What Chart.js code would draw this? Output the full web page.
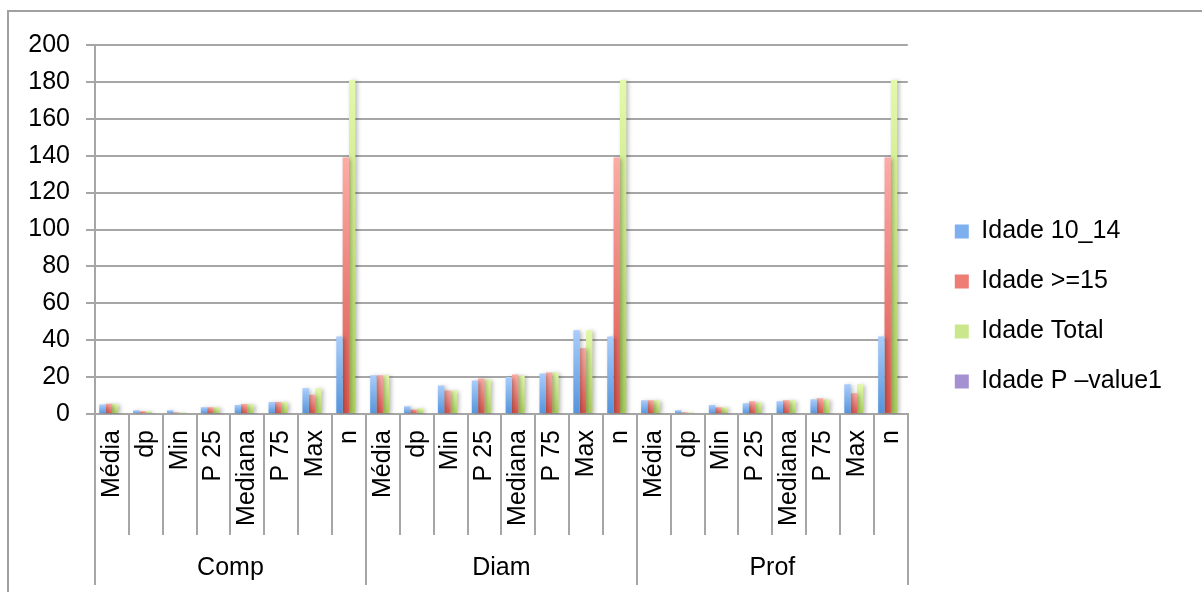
<!DOCTYPE html>
<html>
<head>
<meta charset="utf-8">
<title>Idade – Comp, Diam, Prof</title>
<script src="https://cdn.jsdelivr.net/npm/chart.js@4/dist/chart.umd.min.js"></script>
<style>
  html, body { margin: 0; padding: 0; background: #fff; }
  #wrap { width: 1202px; height: 592px; position: relative; }
</style>
</head>
<body>
<div id="wrap"><canvas id="c" width="1202" height="592"></canvas></div>
<script>
// Measure groups and the statistics shown inside each group
const groups = ['Comp', 'Diam', 'Prof'];
const stats = ['Média', 'dp', 'Min', 'P 25', 'Mediana', 'P 75', 'Max', 'n'];

// Series values, eight statistics per group (Comp, Diam, Prof)
const idade10_14 = [
  5.1, 2.0, 2.0, 3.7, 4.9, 6.5, 14.0, 42,
  21.0, 4.2, 15.5, 18.2, 20.0, 22.0, 45.4, 42,
  7.4, 2.0, 4.9, 5.8, 6.9, 8.0, 16.1, 42
];
const idade15 = [
  5.6, 1.5, 0.9, 3.7, 5.4, 6.5, 10.5, 139,
  21.0, 2.5, 12.8, 19.3, 21.4, 22.5, 35.6, 139,
  7.4, 1.0, 3.6, 6.9, 7.4, 8.5, 11.3, 139
];
const idadeTotal = [
  5.6, 1.5, 0.9, 3.7, 5.4, 6.5, 14.0, 181,
  21.0, 3.1, 12.8, 18.8, 20.9, 22.5, 45.4, 181,
  7.4, 0.9, 3.6, 6.3, 7.4, 8.0, 16.1, 181
];
const idadePValue = [
  0, 0, 0, 0, 0, 0, 0, 0,
  0, 0, 0, 0, 0, 0, 0, 0,
  0, 0, 0, 0, 0, 0, 0, 0
];

const seriesNames = ['Idade 10_14', 'Idade >=15', 'Idade Total', 'Idade P –value1'];

// Y axis range
const yMin = 0, yMax = 200, yStep = 20;

// Category labels: the statistics repeated for every group
const categories = [];
groups.forEach(() => stats.forEach(s => categories.push(s)));

const gridColor = '#a6a6a6';
const fontFamily = '"Liberation Sans", Arial, Helvetica, sans-serif';

// Vertical gradient per bar, light at the top and saturated at the base
function barGradient(light, dark) {
  return (ctx) => {
    const chart = ctx.chart;
    const ys = chart.scales && chart.scales.y;
    if (!ys || !chart.chartArea || ctx.raw === undefined) return dark;
    const p0 = ys.getPixelForValue(0);
    const p1 = ys.getPixelForValue(ctx.raw);
    if (!isFinite(p1) || Math.abs(p1 - p0) < 0.5) return dark;
    const g = chart.ctx.createLinearGradient(0, p1, 0, p0);
    g.addColorStop(0, light);
    g.addColorStop(1, dark);
    return g;
  };
}

const palette = [
  { light: '#aacdfb', dark: '#5393dc', legend: '#7eb0ef' },
  { light: '#fcaca6', dark: '#dc554c', legend: '#ee7d76' },
  { light: '#e3f9ab', dark: '#abd05d', legend: '#cbe78c' },
  { light: '#c4b4e4', dark: '#8a6fc0', legend: '#a590d2' }
];
const seriesData = [idade10_14, idade15, idadeTotal, idadePValue];

const datasets = seriesData.map((data, i) => ({
  label: seriesNames[i],
  data: data,
  backgroundColor: barGradient(palette[i].light, palette[i].dark),
  borderWidth: 0,
  categoryPercentage: 0.75,
  barPercentage: 1.0
}));

// Outer frame and soft bar shadows
const decor = {
  id: 'decor',
  beforeDraw(chart) {
    const c = chart.ctx;
    c.save();
    c.fillStyle = '#fff';
    c.fillRect(0, 0, chart.width, chart.height);
    c.strokeStyle = '#a0a0a0';
    c.lineWidth = 2;
    c.strokeRect(8, 11, 1400, 800);
    c.restore();
  },
  beforeDatasetsDraw(chart) {
    const c = chart.ctx;
    c.save();
    c.shadowColor = 'rgba(0,0,0,0.28)';
    c.shadowBlur = 4;
    c.shadowOffsetX = 2;
    c.shadowOffsetY = 1;
  },
  afterDatasetsDraw(chart) {
    chart.ctx.restore();
  }
};

new Chart(document.getElementById('c'), {
  type: 'bar',
  data: { labels: categories, datasets: datasets },
  plugins: [decor],
  options: {
    responsive: false,
    animation: false,
    devicePixelRatio: 1,
    font: { family: fontFamily, size: 25 },
    color: '#000',
    layout: { padding: { top: 21, left: 0, right: 30, bottom: 0 } },
    plugins: {
      tooltip: { enabled: false },
      legend: {
        position: 'right',
        align: 'center',
        maxWidth: 330,
        labels: {
          boxWidth: 14,
          boxHeight: 14,
          padding: 25,
          color: '#000',
          font: { family: fontFamily, size: 25 },
          generateLabels: (chart) => chart.data.datasets.map((d, i) => ({
            text: d.label,
            fillStyle: palette[i].legend,
            strokeStyle: palette[i].legend,
            lineWidth: 0,
            hidden: false,
            datasetIndex: i
          }))
        }
      }
    },
    scales: {
      x: {
        type: 'category',
        position: 'bottom',
        weight: 0,
        offset: true,
        grid: {
          display: true,
          offset: true,
          drawOnChartArea: false,
          drawTicks: true,
          tickLength: 121,
          color: gridColor,
          lineWidth: 2
        },
        border: { display: true, color: gridColor, width: 2 },
        ticks: {
          autoSkip: false,
          minRotation: 90,
          maxRotation: 90,
          padding: -105,
          color: '#000',
          font: { family: fontFamily, size: 25 }
        },
        afterFit: (s) => { s.height = 121; }
      },
      x2: {
        type: 'category',
        position: 'bottom',
        weight: 1,
        labels: groups,
        offset: true,
        grid: {
          display: true,
          offset: true,
          drawOnChartArea: false,
          drawTicks: true,
          tickLength: 50,
          color: gridColor,
          lineWidth: 2
        },
        border: { display: false },
        ticks: {
          autoSkip: false,
          maxRotation: 0,
          minRotation: 0,
          padding: -32,
          color: '#000',
          font: { family: fontFamily, size: 25 }
        },
        afterFit: (s) => { s.height = 57; }
      },
      // empty band above the plot area
      topGap: {
        type: 'category',
        position: 'top',
        labels: groups,
        display: true,
        grid: { display: false, drawTicks: false },
        border: { display: false },
        ticks: { display: false },
        afterFit: (s) => { s.height = 24; }
      },
      y: {
        position: 'left',
        min: yMin,
        max: yMax,
        grid: {
          display: true,
          color: gridColor,
          lineWidth: 2,
          tickLength: 9,
          drawTicks: true
        },
        border: { display: true, color: gridColor, width: 2 },
        ticks: {
          stepSize: yStep,
          padding: 16,
          color: '#000',
          font: { family: fontFamily, size: 25 }
        },
        afterFit: (s) => { s.width = 95; }
      },
      // empty band between the plot area and the legend
      yGap: {
        position: 'right',
        display: true,
        grid: { display: false, drawTicks: false },
        border: { display: false },
        ticks: { display: false },
        afterFit: (s) => { s.width = 22; }
      }
    }
  }
});
</script>
</body>
</html>
